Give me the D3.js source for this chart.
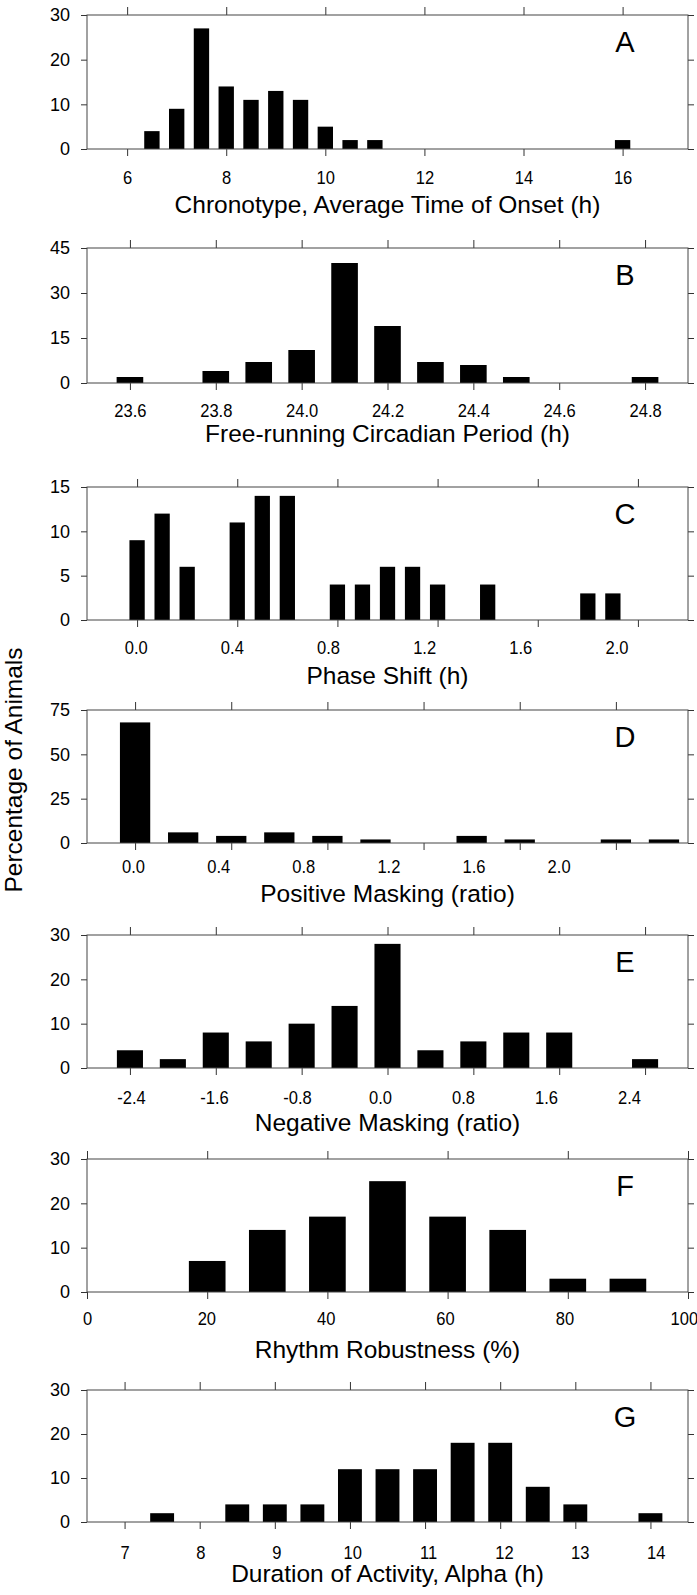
<!DOCTYPE html>
<html>
<head>
  <meta charset="utf-8">
  <style type="text/css">
    body { margin: 0; background: #fff; }
    svg text { font-family: "Liberation Sans", Arial, sans-serif; fill: #000; }
  </style>
  <script src="https://d3js.org/d3.v7.min.js"></script>
</head>
<body>
<div id="chart"></div>
<script type="text/javascript">
  "use strict";

  // A - chronotype (h)
  var onsetBins   = [6.5, 7, 7.5, 8, 8.5, 9, 9.5, 10, 10.5, 11, 16];
  var onsetPct    = [4, 9, 27, 14, 11, 13, 11, 5, 2, 2, 2];
  var onsetTicks  = [6, 8, 10, 12, 14, 16];

  // B - free running period (h)
  var tauBins     = [23.6, 23.8, 23.9, 24.0, 24.1, 24.2, 24.3, 24.4, 24.5, 24.8];
  var tauPct      = [2, 4, 7, 11, 40, 19, 7, 6, 2, 2];
  var tauTicks    = [23.6, 23.8, 24.0, 24.2, 24.4, 24.6, 24.8];

  // C - phase shift (h)
  var shiftBins   = [0.0, 0.1, 0.2, 0.4, 0.5, 0.6, 0.8, 0.9, 1.0, 1.1, 1.2, 1.4, 1.8, 1.9];
  var shiftPct    = [9, 12, 6, 11, 14, 14, 4, 4, 6, 6, 4, 4, 3, 3];
  var shiftTicks  = [0.0, 0.4, 0.8, 1.2, 1.6, 2.0];

  // D - positive masking (ratio)
  var posBins     = [0.0, 0.2, 0.4, 0.6, 0.8, 1.0, 1.4, 1.6, 2.0, 2.2];
  var posPct      = [68, 6, 4, 6, 4, 2, 4, 2, 2, 2];
  var posTicks    = [0.0, 0.4, 0.8, 1.2, 1.6, 2.0];

  // E - negative masking (ratio)
  var negBins     = [-2.4, -2.0, -1.6, -1.2, -0.8, -0.4, 0.0, 0.4, 0.8, 1.2, 1.6, 2.4];
  var negPct      = [4, 2, 8, 6, 10, 14, 28, 4, 6, 8, 8, 2];
  var negTicks    = [-2.4, -1.6, -0.8, 0.0, 0.8, 1.6, 2.4];

  // F - rhythm robustness (%)
  var robBins     = [20, 30, 40, 50, 60, 70, 80, 90];
  var robPct      = [7, 14, 17, 25, 17, 14, 3, 3];
  var robTicks    = [0, 20, 40, 60, 80, 100];

  // G - alpha (h)
  var alphaBins   = [7.5, 8.5, 9, 9.5, 10, 10.5, 11, 11.5, 12, 12.5, 13, 14];
  var alphaPct    = [2, 4, 4, 4, 12, 12, 12, 18, 18, 8, 4, 2];
  var alphaTicks  = [7, 8, 9, 10, 11, 12, 13, 14];

  var panels = [
    { letter: "A", title: "Chronotype, Average Time of Onset (h)", bins: onsetBins, pct: onsetPct, ticks: onsetTicks,
      domain: [5.19, 17.32], yMax: 30, barW: 0.31, dec: 0, top: 15, bottom: 149, labelGap: 28, titleGap: 55, labelK: 1, labelDx: 0 },
    { letter: "B", title: "Free-running Circadian Period (h)", bins: tauBins, pct: tauPct, ticks: tauTicks,
      domain: [23.5, 24.9], yMax: 45, barW: 0.062, dec: 1, top: 248, bottom: 383, labelGap: 27, titleGap: 50, labelK: 1, labelDx: 0 },
    { letter: "C", title: "Phase Shift (h)", bins: shiftBins, pct: shiftPct, ticks: shiftTicks,
      domain: [-0.2, 2.2], yMax: 15, barW: 0.061, dec: 1, top: 487, bottom: 620, labelGap: 27, titleGap: 55, labelK: 0.96, labelDx: -1.4 },
    { letter: "D", title: "Positive Masking (ratio)", bins: posBins, pct: posPct, ticks: posTicks,
      domain: [-0.2, 2.3], yMax: 75, barW: 0.126, dec: 1, top: 710, bottom: 843, labelGap: 23, titleGap: 50, labelK: 0.885, labelDx: -2 },
    { letter: "E", title: "Negative Masking (ratio)", bins: negBins, pct: negPct, ticks: negTicks,
      domain: [-2.8, 2.8], yMax: 30, barW: 0.243, dec: 1, top: 935, bottom: 1068, labelGap: 29, titleGap: 54, labelK: 0.967, labelDx: 1 },
    { letter: "F", title: "Rhythm Robustness (%)", bins: robBins, pct: robPct, ticks: robTicks,
      domain: [0, 100], yMax: 30, barW: 6.1, dec: 0, top: 1159, bottom: 1292, labelGap: 26, titleGap: 57, labelK: 0.993, labelDx: 0 },
    { letter: "G", title: "Duration of Activity, Alpha (h)", bins: alphaBins, pct: alphaPct, ticks: alphaTicks,
      domain: [6.5, 14.5], yMax: 30, barW: 0.318, dec: 0, top: 1390, bottom: 1522, labelGap: 30, titleGap: 51, labelK: 1.01, labelDx: 0 }
  ];

  var width = 697, height = 1595,
      left = 87, right = 688;

  var svg = d3.select("#chart")
    .append("svg")
      .attr("width", width)
      .attr("height", height);

  // tick labels in the figure are a bit narrow
  function narrowText(sel) {
    sel.style("font-size", "18px")
       .attr("transform", "scale(0.92,1)");
  }

  function drawPanel(p) {
    var h = p.bottom - p.top;
    var g = svg.append("g")
        .attr("class", "panel")
        .attr("transform", "translate(0," + p.top + ")");

    var x = d3.scaleLinear().domain(p.domain).range([left, right]);
    var y = d3.scaleLinear().domain([0, p.yMax]).range([h, 0]);
    var yTicks = d3.range(0, p.yMax + 0.001, p.yMax / 3);

    // bars
    g.selectAll("rect.bar")
      .data(p.bins)
      .enter().append("rect")
        .attr("class", "bar")
        .attr("x", function(d) { return x(d - p.barW / 2); })
        .attr("width", function(d) { return x(d + p.barW / 2) - x(d - p.barW / 2); })
        .attr("y", function(d, i) { return y(p.pct[i]); })
        .attr("height", function(d, i) { return h - y(p.pct[i]); })
        .attr("fill", "#000");

    // ticks on all four sides, pointing out
    var tickStyle = function(sel) {
      sel.select(".domain").remove();
      sel.selectAll("line").attr("stroke", "#333").attr("stroke-width", 1);
    };
    g.append("g").attr("transform", "translate(0," + h + ")")
      .call(d3.axisBottom(x).tickValues(p.ticks).tickSize(7).tickFormat(""))
      .call(tickStyle);
    g.append("g")
      .call(d3.axisTop(x).tickValues(p.ticks).tickSize(8).tickFormat(""))
      .call(tickStyle);
    g.append("g").attr("transform", "translate(" + right + ",0)")
      .call(d3.axisRight(y).tickValues(yTicks).tickSize(6).tickFormat(""))
      .call(tickStyle);
    g.append("g").attr("transform", "translate(" + left + ",0)")
      .call(d3.axisLeft(y).tickValues(yTicks).tickSize(6).tickPadding(11).tickFormat(d3.format("d")))
      .call(tickStyle)
      .selectAll("text")
        .style("font-size", "18px");

    // frame
    g.append("rect")
      .attr("x", left).attr("y", 0)
      .attr("width", right - left).attr("height", h)
      .attr("fill", "none")
      .attr("stroke", "#444")
      .attr("stroke-width", 1);

    // x tick labels (in the figure they do not sit exactly under every tick)
    var t0 = p.ticks[0], t1 = p.ticks[p.ticks.length - 1];
    var xl = d3.scaleLinear()
      .domain([t0, t1])
      .range([x(t0) + p.labelDx, x(t0) + p.labelDx + (x(t1) - x(t0)) * p.labelK]);
    g.append("g").attr("transform", "translate(0," + h + ")")
      .call(d3.axisBottom(xl).tickValues(p.ticks).tickSize(0).tickPadding(p.labelGap - 6)
        .tickFormat(function(d) { return d.toFixed(p.dec); }))
      .call(function(sel) { sel.select(".domain").remove(); })
      .selectAll("text")
        .call(narrowText);

    // axis title
    g.append("text")
      .attr("x", (left + right) / 2)
      .attr("y", h + p.titleGap + 9)
      .attr("text-anchor", "middle")
      .style("font-size", "24.5px")
      .text(p.title);

    // panel letter
    g.append("text")
      .attr("x", 625)
      .attr("y", 37)
      .attr("text-anchor", "middle")
      .style("font-size", "29px")
      .text(p.letter);
  }

  panels.forEach(drawPanel);

  svg.append("text")
    .attr("transform", "translate(22,770) rotate(-90)")
    .attr("text-anchor", "middle")
    .style("font-size", "24.5px")
    .text("Percentage of Animals");
</script>
</body>
</html>
